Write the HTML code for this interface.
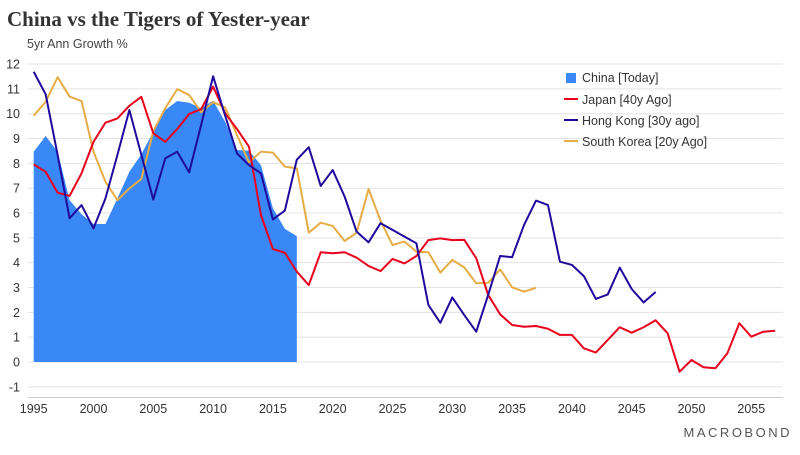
<!DOCTYPE html>
<html><head><meta charset="utf-8"><style>
body{margin:0;background:#fff;width:800px;height:450px;overflow:hidden;font-family:"Liberation Sans",sans-serif}
svg text{font-family:"Liberation Sans",sans-serif}
</style></head><body>
<svg id="chart" width="800" height="450">
<text x="7" y="26" font-family="Liberation Serif" font-weight="bold" font-size="21" fill="#333" style="font-family:'Liberation Serif',serif">China vs the Tigers of Yester-year</text>
<text x="27" y="48" font-size="12.5" fill="#444">5yr Ann Growth %</text>
<g id="grid"></g><g id="marks"></g><g id="axes"></g>
<g>
<rect x="566" y="73" width="10" height="10" fill="#3a87f7"/>
<text x="582" y="82" font-size="12.5" fill="#333">China [Today]</text>
<line x1="564" y1="99" x2="578" y2="99" stroke="#e8001c" stroke-width="2"/>
<text x="582" y="104" font-size="12.5" fill="#333">Japan [40y Ago]</text>
<line x1="564" y1="120" x2="578" y2="120" stroke="#1f0a9e" stroke-width="2"/>
<text x="582" y="125" font-size="12.5" fill="#333">Hong Kong [30y ago]</text>
<line x1="564" y1="141" x2="578" y2="141" stroke="#e6ac45" stroke-width="2"/>
<text x="582" y="146" font-size="12.5" fill="#333">South Korea [20y Ago]</text>
</g>
<text x="792" y="437" text-anchor="end" font-size="13" letter-spacing="2.5" fill="#555">MACROBOND</text>
</svg>
<script>
const xTicks=[1995,2000,2005,2010,2015,2020,2025,2030,2035,2040,2045,2050,2055];
const yTicks=[-1,0,1,2,3,4,5,6,7,8,9,10,11,12];
const chinaStart=1995;
const china=[8.47,9.1,8.47,6.52,5.95,5.56,5.56,6.59,7.66,8.36,9.28,10.15,10.51,10.44,10.22,10.52,9.68,8.54,8.51,7.93,6.19,5.36,5.07];
const japanStart=1995;
const japan=[7.96,7.66,6.82,6.69,7.6,8.87,9.64,9.81,10.32,10.68,9.21,8.87,9.38,9.99,10.18,11.09,10.02,9.38,8.67,5.92,4.55,4.4,3.64,3.1,4.42,4.38,4.42,4.2,3.87,3.66,4.15,3.97,4.27,4.91,4.98,4.91,4.92,4.18,2.7,1.92,1.49,1.42,1.45,1.34,1.09,1.09,0.55,0.38,0.89,1.4,1.18,1.4,1.68,1.16,-0.39,0.08,-0.21,-0.25,0.35,1.56,1.02,1.22,1.26];
const hkStart=1995;
const hk=[11.69,10.78,8.34,5.79,6.32,5.38,6.59,8.34,10.15,8.34,6.54,8.2,8.47,7.64,9.55,11.51,9.93,8.4,7.93,7.6,5.74,6.1,8.15,8.65,7.09,7.73,6.66,5.25,4.82,5.59,5.32,5.05,4.78,2.3,1.58,2.6,1.89,1.22,2.7,4.27,4.22,5.52,6.5,6.32,4.04,3.91,3.46,2.54,2.72,3.8,2.94,2.4,2.82];
const koreaStart=1995;
const korea=[9.92,10.48,11.47,10.69,10.51,8.47,7.26,6.52,6.99,7.37,9.3,10.22,10.99,10.75,10.06,10.46,10.26,9.14,8.04,8.47,8.43,7.87,7.8,5.21,5.61,5.48,4.87,5.21,6.97,5.69,4.71,4.85,4.44,4.42,3.6,4.11,3.81,3.17,3.19,3.73,3.01,2.83,2.99];
const NS='http://www.w3.org/2000/svg';
const X=y=>33.7+(y-1995)*11.96;
const Y=v=>362-v*24.83;
function mk(tag,parent,attrs){const e=document.createElementNS(NS,tag);for(const k in attrs)e.setAttribute(k,attrs[k]);document.getElementById(parent).appendChild(e);return e;}
yTicks.forEach(t=>{
 const l=mk('line','grid',{x1:28,x2:783,y1:Y(t),y2:Y(t),stroke:'#e3e3e3','stroke-width':1});
 
 
 const tx=mk('text','axes',{x:20,y:Y(t)+4.5,'text-anchor':'end','font-size':12.5,fill:'#333'});
 tx.textContent=t;
 
 
});
const ax=mk('line','axes',{x1:28,x2:783,y1:397.5,y2:397.5,stroke:'#ccc','stroke-width':1});


xTicks.forEach(t=>{
 const tx=mk('text','axes',{x:X(t),y:413,'text-anchor':'middle','font-size':12.5,fill:'#333'});
 tx.textContent=t;
 
 
});
let d='M'+X(chinaStart)+','+Y(0);
china.forEach((v,i)=>{d+=' L'+X(chinaStart+i)+','+Y(v);});
d+=' L'+X(chinaStart+china.length-1)+','+Y(0)+' Z';
const area=mk('path','marks',{d:d,fill:'#3a87f7'});


function line(arr,start,color,name){
 const p=arr.map((v,i)=>X(start+i)+','+Y(v)).join(' ');
 const e=mk('polyline','marks',{points:p,fill:'none',stroke:color,'stroke-width':2,'stroke-linejoin':'round'});
 
 
}
line(korea,koreaStart,'#e6ac45','south-korea-line');
line(japan,japanStart,'#e8001c','japan-line');
line(hk,hkStart,'#1f0a9e','hong-kong-line');
</script>
</body></html>
